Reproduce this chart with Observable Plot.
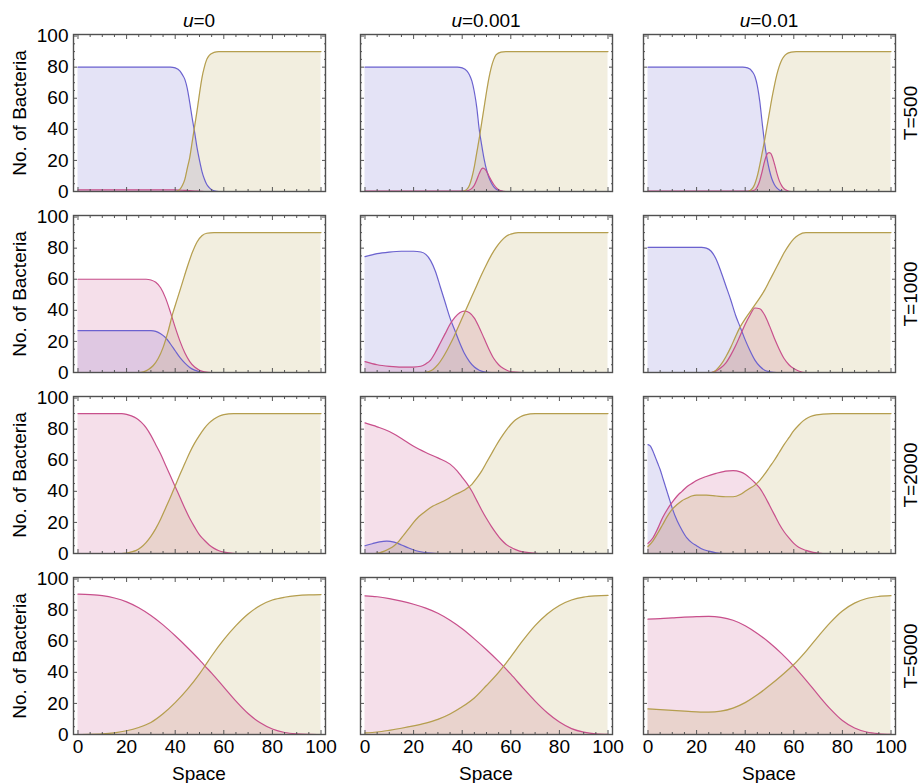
<!DOCTYPE html>
<html><head><meta charset="utf-8">
<script src="https://cdn.jsdelivr.net/npm/d3@7"></script>
<script src="https://cdn.jsdelivr.net/npm/@observablehq/plot@0.6"></script>
<style>
body{margin:0;background:#fff;}
#wrap{position:relative;width:922px;height:783px;font-family:"Liberation Sans",Arial,sans-serif;color:#000;overflow:hidden;}
.lbl{position:absolute;font-size:19px;white-space:nowrap;transform:translate(-50%,-50%);line-height:1;}
.rot{transform:translate(-50%,-50%) rotate(-90deg);}
.panel{position:absolute;}
</style></head><body><div id="wrap"></div>
<script>
// ---- labels ----
const colLabels = ["0", "0.001", "0.01"];
const rowLabels = ["T=500", "T=1000", "T=2000", "T=5000"];
const yLabel = "No. of Bacteria";
const xLabel = "Space";
const xMajor = [0, 20, 40, 60, 80, 100];
const yMajor = [0, 20, 40, 60, 80, 100];

// ---- data: [space, number] pairs, blue / pink / gold per panel ----
const T500_u0_blue = [[0,80],[38,80],[40,79.5],[42,77.5],[43,75],[44,72],[45,66],[46,57],[47,47],[48,38],[49,28],[50,20],[51,13],[52,8],[53,4.5],[54,2.5],[55,1.2],[56,0.5],[58,0],[100,0]];
const T500_u0_pink = [[0,1],[40,1],[44,0.7],[48,0.3],[52,0],[100,0]];
const T500_u0_gold = [[0,0],[40,0],[41,0.5],[42,1.5],[43,4],[44,8],[45,15],[46,22],[47,32],[48,42],[49,52],[50,63],[51,73],[52,80],[53,85],[54,87.5],[56,89.5],[58,90],[100,90]];

const T500_u001_blue = [[0,80],[38,80],[40,79.5],[42,77.5],[43,75],[44,71],[45,64],[46,54],[47,40],[48,30],[49,21],[50,14],[51,9],[52,5.5],[53,3],[54,1.5],[55,0.7],[57,0],[100,0]];
const T500_u001_pink = [[0,0.3],[40,0.3],[42,0.5],[43,1],[44,2],[45,4],[46,7.5],[47,11.5],[48,14.5],[48.5,15],[49,14.8],[50,13],[51,10],[52,7],[53,4.5],[54,2.5],[55,1.2],[56,0.5],[58,0],[100,0]];
const T500_u001_gold = [[0,0],[40,0],[41,0.5],[42,1.5],[43,4],[44,9],[45,16],[46,25],[47,34],[48,44],[49,54],[50,64],[51,73],[52,80],[53,85],[54,88],[56,89.7],[58,90],[100,90]];

const T500_u01_blue = [[0,80],[39,80],[41,79.5],[43,77],[44,74],[45,68],[46,58],[47,44],[48,31],[49,21],[50,13.5],[51,8],[52,4.5],[53,2.3],[54,1],[56,0],[100,0]];
const T500_u01_pink = [[0,0.3],[42,0.3],[44,1],[45,3],[46,7],[47,13],[48,19.5],[49,24],[49.8,25],[50.5,24.5],[51,23],[52,18],[53,12],[54,7],[55,3.8],[56,1.8],[57,0.8],[59,0],[100,0]];
const T500_u01_gold = [[0,0],[41,0],[42,0.7],[43,2],[44,5],[45,10],[46,17],[47,25],[48,33],[49,42],[50,51],[51,60],[52,68],[53,75],[54,80.5],[55,84.5],[56,87],[57,88.5],[59,89.7],[61,90],[100,90]];

const T1000_u0_blue = [[0,27],[30,27],[32,26.5],[34,25],[36,22.5],[38,18.5],[40,14],[42,9.5],[44,6],[46,3.2],[48,1.5],[50,0.5],[52,0],[100,0]];
const T1000_u0_pink = [[0,60],[28,60],[30,59.5],[32,58],[34,54.5],[36,48],[38,39],[40,29],[42,20],[44,12.5],[46,7],[48,3.5],[50,1.5],[52,0.5],[55,0],[100,0]];
const T1000_u0_gold = [[0,0],[25,0],[27,0.5],[29,2],[31,4.5],[33,9],[35,16],[37,26],[39,38],[41,48],[43,58],[45,68],[47,77],[49,84],[51,88],[53,89.6],[56,90],[100,90]];

const T1000_u001_blue = [[0,74.5],[5,76.5],[10,77.5],[15,78],[20,78],[23,77.5],[25,76],[27,72],[29,65],[31,55],[33,45],[35,35],[37,27],[39,19],[41,12],[43,7],[45,3.5],[47,1.5],[49,0.5],[52,0],[100,0]];
const T1000_u001_pink = [[0,7],[5,5],[10,4],[15,3.5],[20,3.5],[23,4],[25,5.5],[27,8],[29,13],[31,19],[33,25],[35,31],[37,35.5],[39,38.5],[41,39.5],[43,38.5],[45,35],[47,29],[49,22],[51,15],[53,9],[55,5],[57,2.5],[59,1],[62,0.2],[65,0],[100,0]];
const T1000_u001_gold = [[0,0],[24,0],[26,0.5],[28,2],[30,5],[32,9.5],[34,15],[36,21],[38,28],[40,35],[42,42],[44,49],[46,56],[48,63],[50,69.5],[52,75.5],[54,80.5],[56,84.5],[58,87.5],[60,89],[63,90],[100,90]];

const T1000_u01_blue = [[0,80.5],[22,80.5],[24,80],[26,78],[28,73],[30,65],[32,56],[34,47],[36,37],[38,29],[40,21],[42,14],[44,8],[46,4],[48,1.5],[50,0.5],[53,0],[100,0]];
const T1000_u01_pink = [[0,0],[26,0],[28,1],[30,3],[32,6],[34,11],[36,17],[38,24],[40,31],[42,37],[44,41.5],[46,41],[48,37],[50,30],[52,22],[54,15],[56,9],[58,5],[60,2.5],[62,1],[65,0],[100,0]];
const T1000_u01_gold = [[0,0],[26,0],[28,1.5],[30,5],[32,10],[34,16],[36,23],[38,29.5],[40,34.5],[42,39],[44,43.5],[46,48],[48,53],[50,59],[52,65],[54,71],[56,77],[58,82],[60,86],[62,88.5],[65,90],[100,90]];

const T2000_u0_blue = [[0,0],[100,0]];
const T2000_u0_pink = [[0,90],[18,90],[20,89.5],[22,88.5],[24,87],[26,84.5],[28,81],[30,76],[32,70],[34,64],[36,57],[38,50],[40,43],[42,36],[44,29],[46,22.5],[48,17],[50,12],[52,8.5],[54,5.5],[56,3.3],[58,1.8],[60,0.9],[62,0.4],[65,0],[100,0]];
const T2000_u0_gold = [[0,0],[18,0],[20,0.3],[22,1],[24,2],[26,4],[28,7],[30,11],[32,16],[34,22],[36,29],[38,36],[40,43.5],[42,51],[44,58],[46,65],[48,71],[50,76],[52,80.5],[54,84],[56,86.5],[58,88.3],[60,89.3],[64,90],[100,90]];

const T2000_u001_blue = [[0,5],[3,6.3],[6,7.5],[9,8],[12,7.3],[15,5.5],[18,3.5],[21,1.8],[24,0.8],[27,0.2],[30,0],[100,0]];
const T2000_u001_pink = [[0,84],[5,81.5],[10,78.5],[15,74],[20,69],[25,65],[30,61.5],[35,57.5],[38,53],[40,49],[42,45],[44,40],[46,34],[48,28],[50,22.5],[52,17.5],[54,13],[56,9],[58,6],[60,4],[62,2.5],[65,1],[70,0.2],[72,0],[100,0]];
const T2000_u001_gold = [[0,0],[4,0],[6,0.5],[8,1.5],[10,3],[12,5],[14,8],[16,12],[18,16],[20,20],[22,23.5],[24,26],[26,28.5],[28,30.5],[30,32],[32,33.5],[34,35],[36,37],[38,38.5],[40,40],[42,42],[44,44.5],[46,48.5],[48,53],[50,58.5],[52,64],[54,69.5],[56,74.5],[58,79],[60,83],[62,86],[64,88],[66,89.2],[70,90],[100,90]];

const T2000_u01_blue = [[0,70],[1,69],[2,66],[3,62],[4,58],[5,54],[6,49],[7,44],[8,39],[9,34],[10,29],[12,21],[14,15],[16,10],[18,7],[20,5],[22,3],[25,1.5],[28,0.5],[31,0],[100,0]];
const T2000_u01_pink = [[0,6.5],[2,10],[4,16],[6,23],[8,28.5],[10,33],[12,37],[14,40],[16,43],[18,45],[20,47],[24,49.5],[28,51.5],[32,53],[35,53.3],[38,52.5],[40,51],[42,48.5],[44,45.5],[46,42],[48,37],[50,31],[52,25],[54,19],[56,14],[58,10],[60,6.5],[62,4],[65,2],[68,0.7],[72,0],[100,0]];
const T2000_u01_gold = [[0,4.5],[2,8],[4,13],[6,18.5],[8,24],[10,28.5],[12,31.5],[14,34],[16,35.5],[18,37],[20,37.5],[24,37.5],[28,37],[32,36.5],[35,36.5],[38,38],[40,40],[42,42],[44,44],[46,47],[48,51],[50,55.5],[52,60],[54,65],[56,70],[58,74.5],[60,79],[62,82.5],[64,85.5],[66,87.5],[68,88.7],[72,89.6],[76,90],[100,90]];

const T5000_u0_blue = [[0,0],[100,0]];
const T5000_u0_pink = [[0,90.3],[5,90],[10,89.3],[15,87.8],[20,85.3],[25,81.5],[30,76.5],[35,70.5],[40,63.5],[45,56],[50,48],[52,44.5],[55,39.5],[60,30.5],[65,21.5],[70,13.5],[75,7.5],[80,3.5],[85,1.3],[90,0.4],[95,0.1],[100,0]];
const T5000_u0_gold = [[0,0],[5,0.1],[10,0.4],[15,1.1],[20,2.4],[25,4.5],[30,7.7],[35,13.3],[40,20.5],[45,29],[50,39],[52,43.5],[55,50.5],[60,61],[65,70],[70,77.5],[75,83],[80,86.5],[85,88.3],[90,89.3],[95,89.8],[100,90]];

const T5000_u001_blue = [[0,0],[100,0]];
const T5000_u001_pink = [[0,89.2],[5,88.6],[10,87.4],[15,85.8],[20,83.8],[25,81.3],[30,78],[35,73.5],[40,68],[45,61.5],[50,54.5],[55,47],[57,43.8],[60,38.8],[65,30],[70,21.5],[75,14],[80,8],[85,3.8],[90,1.5],[95,0.4],[100,0.1]];
const T5000_u001_gold = [[0,1],[5,1.6],[10,2.7],[15,4],[20,5.5],[25,7.3],[30,9.7],[35,13.2],[40,17.8],[45,23.5],[50,31.5],[55,40],[57,43.8],[60,50],[65,60.5],[70,70],[75,77.5],[80,83],[85,86.5],[90,88.4],[95,89.2],[100,89.5]];

const T5000_u01_blue = [[0,0],[100,0]];
const T5000_u01_pink = [[0,74.2],[5,74.5],[10,75],[15,75.5],[20,75.8],[25,76],[30,75.4],[35,73.5],[40,70],[45,65],[50,59],[55,52],[60,44],[65,35],[70,25.5],[75,16.5],[80,9],[85,4.2],[90,1.6],[95,0.5],[100,0.1]];
const T5000_u01_gold = [[0,16.5],[5,16],[10,15.5],[15,15],[20,14.6],[25,14.4],[30,15],[35,17],[40,20.5],[45,25.5],[50,31.5],[55,38],[60,45],[65,53.5],[70,63],[75,72],[80,79.5],[85,84.5],[90,87.5],[95,88.8],[100,89.3]];

const grid = [
  [[T500_u0_blue,T500_u0_pink,T500_u0_gold],[T500_u001_blue,T500_u001_pink,T500_u001_gold],[T500_u01_blue,T500_u01_pink,T500_u01_gold]],
  [[T1000_u0_blue,T1000_u0_pink,T1000_u0_gold],[T1000_u001_blue,T1000_u001_pink,T1000_u001_gold],[T1000_u01_blue,T1000_u01_pink,T1000_u01_gold]],
  [[T2000_u0_blue,T2000_u0_pink,T2000_u0_gold],[T2000_u001_blue,T2000_u001_pink,T2000_u001_gold],[T2000_u01_blue,T2000_u01_pink,T2000_u01_gold]],
  [[T5000_u0_blue,T5000_u0_pink,T5000_u0_gold],[T5000_u001_blue,T5000_u001_pink,T5000_u001_gold],[T5000_u01_blue,T5000_u01_pink,T5000_u01_gold]]
];

// ---- styling / layout ----
const colors = ["#6B62CF", "#C8508C", "#B59E4E"];
const colLeft = [73, 360, 643];
const rowTop = [34, 215, 396, 577];
const frameW = 252, frameH = 157;
const ML = 45, MR = 5, MT = 5, MB = 30;
const FONT = '"Liberation Sans", Arial, sans-serif';
const minor = d3.range(0, 101, 5).filter(v => v % 20 !== 0);
const blank = () => "";

const wrap = document.getElementById("wrap");

function panel(series, showY, showX) {
  const marks = [];
  series.forEach((s, i) => marks.push(Plot.areaY(s, {x: d => d[0], y: d => d[1], fill: colors[i], fillOpacity: 0.18, curve: "monotone-x"})));
  series.forEach((s, i) => marks.push(Plot.lineY(s, {x: d => d[0], y: d => d[1], stroke: colors[i], strokeWidth: 1.2, curve: "monotone-x"})));
  const tk = {stroke: "#555", strokeWidth: 1};
  marks.push(
    Plot.axisX(xMajor, {anchor: "bottom", tickSize: -4, tickPadding: 9, tickFormat: showX ? d3.format("d") : blank, label: null, ...tk}),
    Plot.axisX(minor, {anchor: "bottom", tickSize: -2, tickFormat: blank, label: null, ...tk}),
    Plot.axisX(xMajor, {anchor: "top", tickSize: -4, tickFormat: blank, label: null, ...tk}),
    Plot.axisX(minor, {anchor: "top", tickSize: -2, tickFormat: blank, label: null, ...tk}),
    Plot.axisY(yMajor, {anchor: "left", tickSize: -4, tickPadding: 9, tickFormat: showY ? d3.format("d") : blank, label: null, ...tk}),
    Plot.axisY(minor, {anchor: "left", tickSize: -2, tickFormat: blank, label: null, ...tk}),
    Plot.axisY(yMajor, {anchor: "right", tickSize: -4, tickFormat: blank, label: null, ...tk}),
    Plot.axisY(minor, {anchor: "right", tickSize: -2, tickFormat: blank, label: null, ...tk}),
    Plot.frame({stroke: "#505050", strokeWidth: 1.4})
  );
  return Plot.plot({
    width: frameW + ML + MR,
    height: frameH + MT + MB,
    marginLeft: ML, marginRight: MR, marginTop: MT, marginBottom: MB,
    x: {domain: [-1.85, 101.85]},
    y: {domain: [0, 101]},
    style: {fontFamily: FONT, fontSize: "19px", background: "transparent", overflow: "visible", color: "#000"},
    marks
  });
}

grid.forEach((row, r) => {
  row.forEach((series, c) => {
    const svg = panel(series, c === 0, r === 3);
    const div = document.createElement("div");
    div.className = "panel";
    div.style.left = (colLeft[c] - ML) + "px";
    div.style.top = (rowTop[r] - MT) + "px";
    div.appendChild(svg);
    wrap.appendChild(div);
  });
});

function label(html, x, y, rot) {
  const d = document.createElement("div");
  d.className = "lbl" + (rot ? " rot" : "");
  d.innerHTML = html;
  d.style.left = x + "px";
  d.style.top = y + "px";
  wrap.appendChild(d);
}
colLabels.forEach((u, c) => label("<i>u</i>=" + u, colLeft[c] + frameW / 2, 20, false));
rowLabels.forEach((t, r) => label(t, 910, rowTop[r] + frameH / 2, true));
rowTop.forEach(t => label(yLabel, 19, t + frameH / 2, true));
colLeft.forEach(l => label(xLabel, l + frameW / 2, 773, false));
</script></body></html>
